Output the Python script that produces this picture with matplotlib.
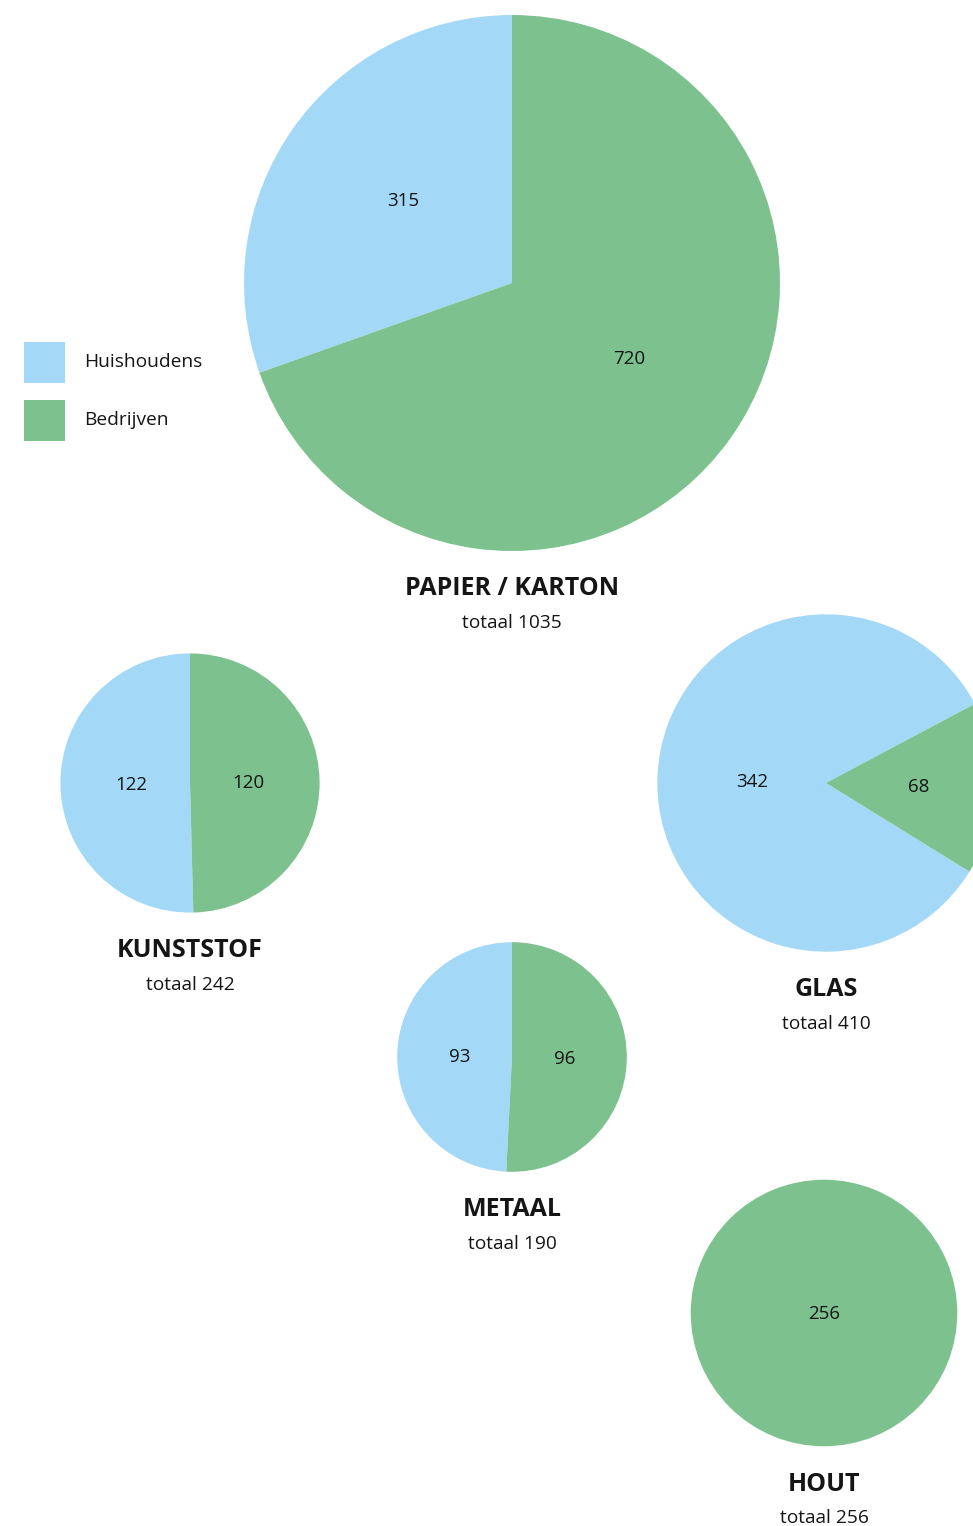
import numpy as np
import matplotlib
matplotlib.use("Agg")
import matplotlib.pyplot as plt
from matplotlib.patches import Rectangle

plt.rcParams['font.family'] = ['Open Sans', 'DejaVu Sans']

# data
categories = ["PAPIER / KARTON", "KUNSTSTOF", "GLAS", "METAAL", "HOUT"]
huishoudens = [315, 122, 342, 93, 0]
bedrijven = [720, 120, 68, 96, 256]
totals = [1035, 242, 410, 190, 256]
series = ["Huishoudens", "Bedrijven"]

# layout (pixels, image coords)
W, H = 973, 1526
centers = [(512, 283), (190, 783), (826, 783), (512, 1057), (824, 1313)]
startangles = [90, 90, 28, 90, 90]
label_dist = [(0.51, 0.52), (0.45, 0.45), (0.44, 0.55), (0.46, 0.46), (0.0, 0.0)]
label_rot = [(-2, 2.5), (0, 0), (0, 0), (0, 0), (0, 0)]
scale = 8.33  # radius = scale * sqrt(total)
colors = ["#a3d9f7", "#7dc18e"]
ink = "#151515"

fig = plt.figure(figsize=(W / 100, H / 100), dpi=100)
ax = fig.add_axes([0, 0, 1, 1])

for i, cat in enumerate(categories):
    vals = [huishoudens[i], bedrijven[i]]
    keep = [j for j, v in enumerate(vals) if v > 0]
    cols = [colors[j] for j in keep]
    vals = [vals[j] for j in keep]
    cx, cy = centers[i]
    r = scale * np.sqrt(totals[i])
    s = sum(vals)
    wedges, _, autotexts = ax.pie(
        vals, colors=cols, startangle=startangles[i], counterclock=True,
        center=(cx, H - cy), radius=r,
        autopct=lambda p, s=s: "%d" % round(p * s / 100),
        textprops=dict(fontsize=13.5, color=ink),
        wedgeprops=dict(linewidth=0))
    for w, t, j in zip(wedges, autotexts, keep):
        ang = np.deg2rad((w.theta1 + w.theta2) / 2 + label_rot[i][j])
        d = label_dist[i][j] * r
        t.set_position((cx + d * np.cos(ang), H - cy + d * np.sin(ang) - 1))
    ax.text(cx, H - (cy + r + 38), cat, ha="center", va="center",
            fontsize=18, fontweight="bold", color=ink)
    ax.text(cx, H - (cy + r + 72), "totaal %d" % totals[i], ha="center",
            va="center", fontsize=13.8, color=ink)

# legend
for k, name in enumerate(series):
    y0 = 342 + k * 58
    ax.add_patch(Rectangle((24, H - y0 - 41), 41, 41, facecolor=colors[k],
                           edgecolor="none"))
    ax.text(84, H - y0 - 20, name, ha="left", va="center", fontsize=13.8,
            color=ink)

ax.set_xlim(0, W)
ax.set_ylim(0, H)
ax.set_aspect("equal")
ax.axis("off")

fig.savefig("out.png", dpi=100)
